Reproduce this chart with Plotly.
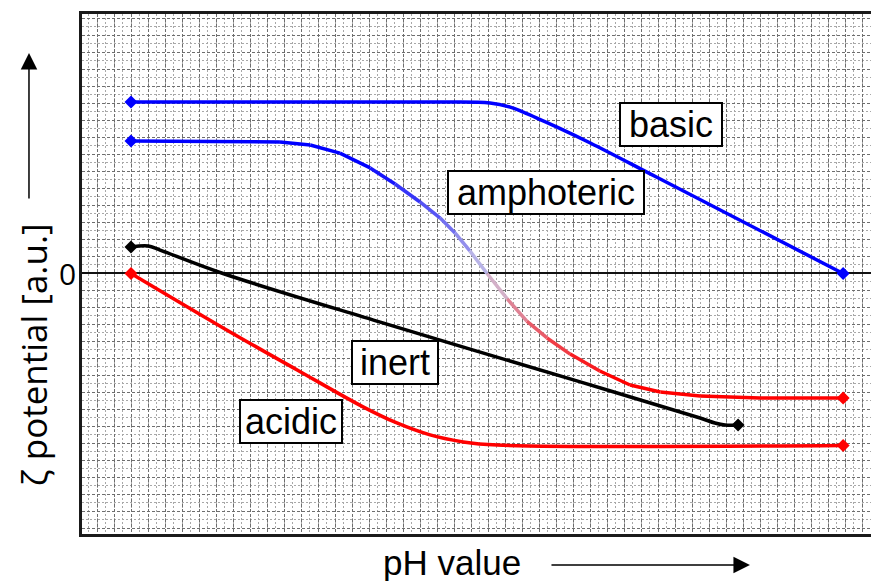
import plotly.graph_objects as go

# ---- data (pH units, zeta potential in arbitrary units) ----
basic_ph = [1.00, 6.21, 7.05, 7.39, 7.61, 8.18, 8.74, 9.87, 13.00]
basic_z = [0.660, 0.660, 0.656, 0.640, 0.621, 0.563, 0.502, 0.369, 0.000]

amph_ph = [1.00, 3.51, 4.02, 4.52, 5.03, 5.45, 5.87, 6.21, 6.46, 6.71, 7.00, 7.34,
           7.67, 8.01, 8.40, 8.90, 9.41, 9.92, 10.59, 11.60, 13.00]
amph_z = [0.510, 0.506, 0.494, 0.463, 0.406, 0.344, 0.275, 0.213, 0.156, 0.087, 0.000, -0.098,
          -0.183, -0.248, -0.310, -0.375, -0.429, -0.456, -0.471, -0.479, -0.479]

inert_ph = [1.00, 1.29, 1.49, 2.55, 5.20, 8.57, 10.59, 10.84, 11.01, 11.23]
inert_z = [0.102, 0.106, 0.090, 0.000, -0.187, -0.417, -0.556, -0.575, -0.583, -0.583]

acid_ph = [1.00, 2.67, 3.80, 4.91, 5.48, 6.04, 6.60, 7.17, 13.00]
acid_z = [0.000, -0.225, -0.371, -0.513, -0.575, -0.621, -0.648, -0.660, -0.662]

labels = ["basic", "amphoteric", "inert", "acidic"]
label_ph = [10.10, 7.99, 5.45, 3.70]
label_z = [0.573, 0.310, -0.344, -0.571]
label_w = [100, 194, 84, 100]

BLUE = (0, 0, 255)
MID = (205, 200, 228)
RED = (255, 0, 0)

X_RANGE = [0.174, 13.47]
Y_RANGE = [-1.002, 0.998]
GX = 17 / 59.333
GY = 17 / 260.0
LW = 3.5

fig = go.Figure()


def grad_color(z):
    if z >= 0:
        t = min(z / 0.42, 1.0)
        a, b = MID, BLUE
    else:
        t = min(-z / 0.40, 1.0)
        a, b = MID, RED
    c = [round(a[k] + (b[k] - a[k]) * t) for k in range(3)]
    return "rgb(%d,%d,%d)" % tuple(c)


def add_curve(xs, ys, color):
    fig.add_trace(go.Scatter(x=xs, y=ys, mode="lines",
                             line=dict(color=color, width=LW, shape="spline", smoothing=1.0),
                             showlegend=False, hoverinfo="skip"))


def add_ends(xs, ys, colors):
    fig.add_trace(go.Scatter(x=[xs[0], xs[-1]], y=[ys[0], ys[-1]], mode="markers",
                             marker=dict(symbol="diamond", size=10, color=colors, opacity=1,
                                         line=dict(width=0)),
                             showlegend=False, hoverinfo="skip"))


add_curve(basic_ph, basic_z, "rgb(0,0,255)")
add_ends(basic_ph, basic_z, ["rgb(0,0,255)", "rgb(0,0,255)"])

# amphoteric with colour gradient
for i in range(len(amph_ph) - 1):
    zm = 0.5 * (amph_z[i] + amph_z[i + 1])
    fig.add_trace(go.Scatter(x=amph_ph[i:i + 2], y=amph_z[i:i + 2], mode="lines",
                             line=dict(color=grad_color(zm), width=LW),
                             showlegend=False, hoverinfo="skip"))
add_ends(amph_ph, amph_z, ["rgb(0,0,255)", "rgb(255,0,0)"])

add_curve(inert_ph, inert_z, "black")
add_ends(inert_ph, inert_z, ["black", "black"])

add_curve(acid_ph, acid_z, "rgb(255,0,0)")
add_ends(acid_ph, acid_z, ["rgb(255,0,0)", "rgb(255,0,0)"])

annotations = []
for t, px, pz, w in zip(labels, label_ph, label_z, label_w):
    annotations.append(dict(x=px, y=pz, xref="x", yref="y", text=t, showarrow=False,
                            font=dict(family="Liberation Sans", size=36, color="black"),
                            bgcolor="white", bordercolor="black", borderwidth=2, borderpad=0,
                            width=w, height=41))

# tick label 0
annotations.append(dict(x=-0.018, y=0, xref="paper", yref="y", text="0", showarrow=False,
                        xanchor="center", yanchor="middle",
                        font=dict(family="Open Sans", size=30, color="black")))
# axis titles
annotations.append(dict(x=0.469, y=-0.054, xref="paper", yref="paper", text="pH value",
                        showarrow=False, xanchor="center", yanchor="middle",
                        font=dict(family="Liberation Sans", size=35, color="black")))
annotations.append(dict(x=-0.062, y=0.344, xref="paper", yref="paper", text="ζ potential [a.u.]",
                        showarrow=False, xanchor="center", yanchor="middle", textangle=-90,
                        font=dict(family="Open Sans", size=35, color="black")))
# arrows
annotations.append(dict(x=0.8466, y=-0.0596, xref="paper", yref="paper", text="",
                        showarrow=True, ax=-200, ay=0, arrowhead=2, arrowsize=2.2,
                        arrowwidth=1.5, arrowcolor="black", standoff=0))
annotations.append(dict(x=-0.0672, y=0.925, xref="paper", yref="paper", text="",
                        showarrow=True, ax=0, ay=147, arrowhead=2, arrowsize=2.2,
                        arrowwidth=1.5, arrowcolor="black", standoff=0))

fig.update_layout(
    width=871, height=581,
    margin=dict(l=82, r=0, t=14, b=47),
    paper_bgcolor="white", plot_bgcolor="white",
    annotations=annotations,
    showlegend=False,
    xaxis=dict(range=X_RANGE, showticklabels=False, ticks="", zeroline=False,
               showgrid=True, tick0=1, dtick=GX, gridcolor="#6e6e6e", gridwidth=1, griddash="3px,2px",
               minor=dict(dtick=GX / 2, showgrid=True, gridcolor="#a8a8a8", griddash="2px,2px", gridwidth=1),
               showline=True, linecolor="#1a1a1a", linewidth=3, mirror=True),
    yaxis=dict(range=Y_RANGE, showticklabels=False, ticks="",
               showgrid=True, tick0=0, dtick=GY, gridcolor="#6e6e6e", gridwidth=1, griddash="3px,2px",
               minor=dict(dtick=GY / 2, showgrid=True, gridcolor="#a8a8a8", griddash="2px,2px", gridwidth=1),
               zeroline=True, zerolinecolor="#111111", zerolinewidth=2,
               showline=True, linecolor="#1a1a1a", linewidth=3, mirror=False),
)

fig.write_html("out.html")
